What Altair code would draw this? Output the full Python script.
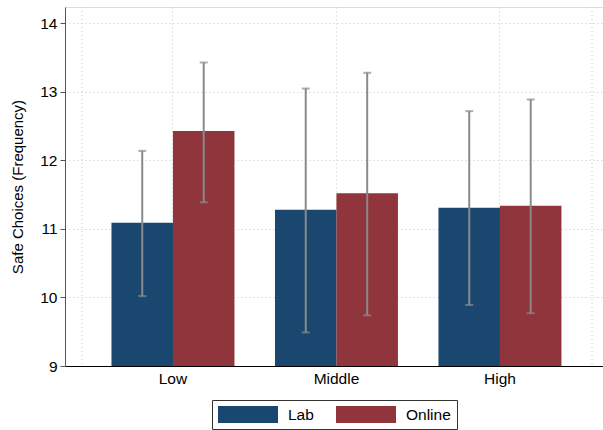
import altair as alt
import pandas as pd

# Mean safe choices by income group, with 95% confidence bounds
groups = ["Low", "Middle", "High"]
lab_mean = [11.09, 11.28, 11.31]
lab_lo = [10.02, 9.49, 9.89]
lab_hi = [12.14, 13.05, 12.72]
online_mean = [12.43, 11.52, 11.34]
online_lo = [11.39, 9.74, 9.77]
online_hi = [13.43, 13.28, 12.89]
samples = ["Lab", "Online"]
colors = ["#1a476f", "#90353b"]
y_floor = 9

rows = []
for i, g in enumerate(groups):
    rows.append({"group": g, "sample": "Lab", "mean": lab_mean[i], "lo": lab_lo[i], "hi": lab_hi[i]})
    rows.append({"group": g, "sample": "Online", "mean": online_mean[i], "lo": online_lo[i], "hi": online_hi[i]})
df = pd.DataFrame(rows)

FONT = "Liberation Sans"
W, H = 538, 359

x = alt.X(
    "group:N",
    sort=groups,
    title=None,
    scale=alt.Scale(paddingInner=0.248, paddingOuter=0.2693, align=0.528),
    axis=alt.Axis(
        labelAngle=0, ticks=False, labelPadding=5, labelFontSize=15.5,
        labelColor="#000000", domainColor="#000000", domainWidth=1,
        grid=True, bandPosition=0.5, gridColor="#c8c8c8", gridDash=[1, 3], gridWidth=1,
    ),
)
xo = alt.XOffset("sample:N", sort=samples, scale=alt.Scale(paddingInner=0, paddingOuter=0))
y_scale = alt.Scale(domain=[y_floor, 14.24], nice=False, zero=False)

# wide flat swatch: small nominal size so the legend rows stay short
swatch = "M-3.53,-1H3.53V1H-3.53Z"

bars = alt.Chart(df).mark_bar(size=61.5).encode(
    x=x,
    xOffset=xo,
    y=alt.Y(
        "mean:Q",
        scale=y_scale,
        title="Safe Choices (Frequency)",
        axis=alt.Axis(
            values=[9, 10, 11, 12, 13, 14], format="d", labelFontSize=15.5, labelColor="#000000",
            titleFontSize=15, titleFontWeight="normal", titleColor="#000000", titlePadding=14,
            tickSize=5, tickColor="#555555", domainColor="#555555", domainWidth=1, labelPadding=3,
            grid=True, gridColor="#c8c8c8", gridDash=[1, 3], gridWidth=1,
        ),
    ),
    y2=alt.Y2(datum=y_floor),
    color=alt.Color(
        "sample:N",
        sort=samples,
        scale=alt.Scale(domain=samples, range=colors),
        legend=alt.Legend(
            title=None, orient="none", legendX=147, legendY=393, direction="horizontal",
            symbolType=swatch, symbolSize=289, symbolStrokeWidth=0, symbolOffset=21.5,
            symbolOpacity=1, labelFontSize=15.5, labelColor="#000000", labelOffset=31.5,
            columnPadding=21, padding=6, strokeColor="#333333", fillColor="#ffffff",
        ),
    ),
)

whiskers = alt.Chart(df).mark_rule(color="#8a8a8a", strokeWidth=2).encode(
    x=alt.X("group:N", sort=groups), xOffset=xo,
    y=alt.Y("lo:Q", scale=y_scale), y2="hi:Q",
)
caps_hi = alt.Chart(df).mark_tick(color="#8a8a8a", thickness=2, size=8).encode(
    x=alt.X("group:N", sort=groups), xOffset=xo, y=alt.Y("hi:Q", scale=y_scale),
)
caps_lo = alt.Chart(df).mark_tick(color="#8a8a8a", thickness=2, size=8).encode(
    x=alt.X("group:N", sort=groups), xOffset=xo, y=alt.Y("lo:Q", scale=y_scale),
)

# outer vertical guide lines of the plot region
edge_grid = alt.Chart(pd.DataFrame({"k": [0]})).mark_rule(
    color="#c8c8c8", strokeDash=[1, 3], strokeWidth=1
).encode(x=alt.value(17), y=alt.value(0), y2=alt.value(H))
edge_grid2 = alt.Chart(pd.DataFrame({"k": [0]})).mark_rule(
    color="#c8c8c8", strokeDash=[1, 3], strokeWidth=1
).encode(x=alt.value(527), y=alt.value(0), y2=alt.value(H))

chart = alt.layer(edge_grid, edge_grid2, bars, whiskers, caps_hi, caps_lo).properties(
    width=W, height=H,
    autosize=alt.AutoSizeParams(type="none"),
    padding={"left": 65, "top": 7, "right": 0, "bottom": 64},
    background="#ffffff",
).configure_view(stroke=None).configure(font=FONT)

chart.save("out.html", embed_options={"renderer": "svg", "actions": False})
